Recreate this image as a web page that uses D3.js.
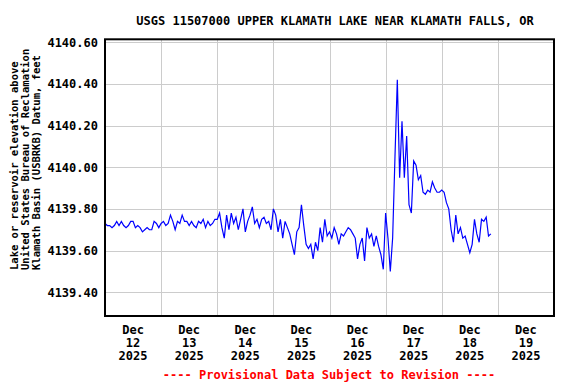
<!DOCTYPE html>
<html>
<head>
<meta charset="utf-8">
<script src="https://cdn.jsdelivr.net/npm/d3@7"></script>
<style>
  body { margin: 0; background: #fff; }
  text { font-family: "DejaVu Sans Mono", monospace; font-weight: bold; }
</style>
</head>
<body>
<script>
// gage height readings, hourly from Dec 12 2025 00:00
var startTime = Date.UTC(2025, 11, 12, 0, 0);
var elevation = [
  4139.73, 4139.72, 4139.72, 4139.71, 4139.72, 4139.74, 4139.72, 4139.74, 4139.72, 4139.71, 4139.72, 4139.74,
  4139.74, 4139.71, 4139.72, 4139.71, 4139.69, 4139.70, 4139.71, 4139.70, 4139.70, 4139.74, 4139.73, 4139.71,
  4139.73, 4139.74, 4139.72, 4139.73, 4139.77, 4139.74, 4139.70, 4139.74, 4139.73, 4139.77, 4139.74, 4139.74,
  4139.72, 4139.74, 4139.72, 4139.71, 4139.74, 4139.73, 4139.75, 4139.71, 4139.74, 4139.72, 4139.73, 4139.75,
  4139.75, 4139.78, 4139.71, 4139.66, 4139.77, 4139.70, 4139.78, 4139.73, 4139.76, 4139.70, 4139.75, 4139.80,
  4139.69, 4139.74, 4139.77, 4139.81, 4139.73, 4139.75, 4139.71, 4139.75, 4139.76, 4139.73, 4139.74, 4139.70,
  4139.80, 4139.77, 4139.69, 4139.75, 4139.66, 4139.74, 4139.71, 4139.68, 4139.63, 4139.58, 4139.69, 4139.71,
  4139.82, 4139.72, 4139.63, 4139.61, 4139.63, 4139.56, 4139.64, 4139.60, 4139.71, 4139.64, 4139.75, 4139.67,
  4139.69, 4139.66, 4139.71, 4139.68, 4139.63, 4139.68, 4139.67, 4139.69, 4139.71, 4139.70, 4139.68, 4139.66,
  4139.56, 4139.63, 4139.66, 4139.55, 4139.71, 4139.66, 4139.68, 4139.62, 4139.67, 4139.62, 4139.58, 4139.51,
  4139.78, 4139.66, 4139.50, 4139.66, 4140.05, 4140.42, 4139.95, 4140.22, 4139.95, 4140.15, 4139.82, 4139.78,
  4140.03, 4140.01, 4139.94, 4139.96, 4139.88, 4139.87, 4139.89, 4139.88, 4139.93, 4139.90, 4139.88, 4139.88,
  4139.89, 4139.88, 4139.83, 4139.80, 4139.70, 4139.64, 4139.77, 4139.68, 4139.71, 4139.66, 4139.67, 4139.63,
  4139.59, 4139.63, 4139.75, 4139.68, 4139.64, 4139.75, 4139.74, 4139.76, 4139.67, 4139.68
];

var yTicks = [4139.40, 4139.60, 4139.80, 4140.00, 4140.20, 4140.40, 4140.60];
var dayTicks = [12, 13, 14, 15, 16, 17, 18, 19, 20];
var dayLabels = [12, 13, 14, 15, 16, 17, 18, 19];

var title = 'USGS 11507000 UPPER KLAMATH LAKE NEAR KLAMATH FALLS, OR';
var yLabel = [
  'Lake or reservoir elevation above',
  'United States Bureau of Reclamation',
  'Klamath Basin (USBRKB) Datum, feet'
];
var footer = '---- Provisional Data Subject to Revision ----';

var plotL = 105, plotR = 554, plotT = 39.3, plotB = 316;

var svg = d3.select('body')
    .append('svg')
    .attr('width', 576)
    .attr('height', 384);

var x = d3.scaleUtc()
    .domain([new Date(Date.UTC(2025, 11, 12)), new Date(Date.UTC(2025, 11, 20))])
    .range([plotL, plotR]);

var y = d3.scaleLinear()
    .domain([4139.286, 4140.614])
    .range([plotB, plotT]);

var series = elevation.map(function(v, i) {
  return { t: new Date(startTime + i * 3600 * 1000), v: v };
});

function noon(d) { return x(new Date(Date.UTC(2025, 11, d, 12))); }

// grid
svg.append('g')
    .attr('transform', 'translate(0,' + plotB + ')')
    .call(d3.axisBottom(x)
        .tickValues(dayTicks.map(function(d) { return new Date(Date.UTC(2025, 11, d)); }))
        .tickSize(-(plotB - plotT))
        .tickFormat(''))
    .call(function(g) {
      g.select('.domain').remove();
      g.selectAll('line').attr('stroke', '#cccccc').attr('shape-rendering', 'crispEdges');
    });

svg.append('g')
    .attr('transform', 'translate(' + plotL + ',0)')
    .call(d3.axisLeft(y)
        .tickValues(yTicks)
        .tickSize(-(plotR - plotL))
        .tickPadding(7)
        .tickFormat(d3.format('.2f')))
    .call(function(g) {
      g.select('.domain').remove();
      g.selectAll('line').attr('stroke', '#cccccc').attr('shape-rendering', 'crispEdges');
      g.selectAll('text')
          .attr('font-family', '"DejaVu Sans Mono", monospace')
          .attr('font-weight', 'bold')
          .attr('font-size', 12)
          .attr('fill', '#000');
    });

// data line
var line = d3.line()
    .x(function(d) { return x(d.t); })
    .y(function(d) { return y(d.v); });

svg.append('path')
    .datum(series)
    .attr('d', line)
    .attr('fill', 'none')
    .attr('stroke', '#0000ff')
    .attr('stroke-width', 1.2);

// frame
svg.append('rect')
    .attr('x', plotL)
    .attr('y', plotT)
    .attr('width', plotR - plotL)
    .attr('height', plotB - plotT)
    .attr('fill', 'none')
    .attr('stroke', '#000')
    .attr('stroke-width', 2);

// x labels at noon
var xl = svg.append('g').selectAll('text')
    .data(dayLabels)
    .join('text')
    .attr('text-anchor', 'middle')
    .attr('font-size', 12);

xl.append('tspan').attr('y', 334).attr('x', noon).text('Dec');
xl.append('tspan').attr('y', 347).attr('x', noon).text(function(d) { return d; });
xl.append('tspan').attr('y', 360).attr('x', noon).text('2025');

svg.append('text')
    .attr('x', 335)
    .attr('y', 25)
    .attr('font-size', 12)
    .attr('text-anchor', 'middle')
    .text(title);

svg.append('g').selectAll('text')
    .data(yLabel)
    .join('text')
    .attr('font-size', 10.5)
    .attr('transform', function(d, i) { return 'translate(' + (17.5 + i * 11) + ',270) rotate(-90)'; })
    .text(function(d) { return d; });

svg.append('text')
    .attr('x', 329)
    .attr('y', 379)
    .attr('font-size', 12)
    .attr('fill', '#ff0000')
    .attr('text-anchor', 'middle')
    .text(footer);
</script>
</body>
</html>
